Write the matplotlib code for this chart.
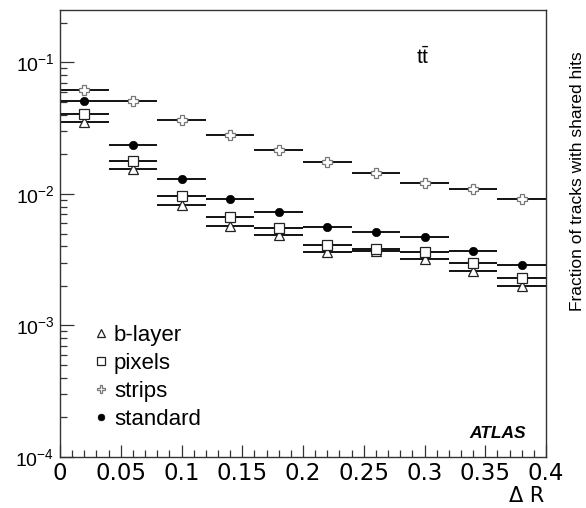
import matplotlib
matplotlib.use("Agg")
import matplotlib.pyplot as plt
from matplotlib.ticker import MultipleLocator, LogLocator, NullFormatter, FixedLocator
from matplotlib.lines import Line2D
import numpy as np

plt.rcParams['font.family'] = ['Liberation Sans', 'DejaVu Sans']
plt.rcParams['mathtext.fontset'] = 'custom'
plt.rcParams['mathtext.rm'] = 'Liberation Sans'
plt.rcParams['mathtext.it'] = 'Liberation Sans:italic'
plt.rcParams['mathtext.bf'] = 'Liberation Sans:bold'

# ---- data ----
bin_centers = [0.02, 0.06, 0.10, 0.14, 0.18, 0.22, 0.26, 0.30, 0.34, 0.38]
bin_halfwidth = 0.02
strips = [0.0613, 0.0506, 0.0363, 0.0279, 0.0214, 0.0175, 0.0144, 0.0120, 0.0109, 0.0092]
standard = [0.0506, 0.0237, 0.0130, 0.0092, 0.0073, 0.0056, 0.0051, 0.0047, 0.0037, 0.0029]
pixels = [0.0407, 0.0177, 0.0097, 0.0067, 0.0055, 0.0041, 0.0038, 0.0036, 0.0030, 0.0023]
blayer = [0.0355, 0.0154, 0.0082, 0.0057, 0.0049, 0.0036, 0.0037, 0.0032, 0.0026, 0.0020]
series_labels = ['b-layer', 'pixels', 'strips', 'standard']
x_ticks = [0, 0.05, 0.1, 0.15, 0.2, 0.25, 0.3, 0.35, 0.4]
x_ticklabels = ['0', '0.05', '0.1', '0.15', '0.2', '0.25', '0.3', '0.35', '0.4']
y_ticks = [1e-4, 1e-3, 1e-2, 1e-1]
y_ticklabels = [r'$10^{-4}$', r'$10^{-3}$', r'$10^{-2}$', r'$10^{-1}$']

W, H = 586, 508
fig = plt.figure(figsize=(W / 100, H / 100), dpi=100)
ax = fig.add_axes([60 / W, 1 - 457 / H, 486 / W, 447 / H])

styles = {
    'b-layer': dict(marker='^', ms=6.5, mfc='white', mec='#222222', mew=0.9),
    'pixels': dict(marker='s', ms=6.5, mfc='white', mec='#222222', mew=0.9),
    'strips': dict(marker='P', ms=7, mfc='white', mec='#777777', mew=0.9),
    'standard': dict(marker='o', ms=6, mfc='black', mec='black', mew=0.5),
}
data = {'b-layer': blayer, 'pixels': pixels, 'strips': strips, 'standard': standard}

for name in series_labels:
    ax.errorbar(bin_centers, data[name], xerr=bin_halfwidth, fmt='none',
                ecolor='black', elinewidth=1.3, capsize=0, zorder=2)
    ax.plot(bin_centers, data[name], linestyle='none', zorder=3, **styles[name])

ax.set_xlim(0, 0.4)
ax.set_yscale('log')
ax.set_ylim(1e-4, 0.25)

ax.xaxis.set_major_locator(FixedLocator(x_ticks))
ax.set_xticklabels(x_ticklabels, fontfamily='DejaVu Sans')
ax.xaxis.set_minor_locator(MultipleLocator(0.01))
ax.yaxis.set_major_locator(FixedLocator(y_ticks))
ax.set_yticklabels(y_ticklabels)
ax.yaxis.set_minor_locator(LogLocator(base=10, subs=np.arange(2, 10)))
ax.yaxis.set_minor_formatter(NullFormatter())

ax.tick_params(axis='both', which='both', direction='in', top=False, right=False, colors='#333333')
ax.tick_params(axis='x', which='major', length=9, width=0.9, labelsize=16.5, pad=3.5, labelcolor='black')
ax.tick_params(axis='x', which='minor', length=4.8, width=0.9)
ax.tick_params(axis='y', which='major', length=10, width=0.9, labelsize=14, pad=4, labelcolor='black')
ax.tick_params(axis='y', which='minor', length=5.3, width=0.9)
for s in ax.spines.values():
    s.set_linewidth(1.0)
    s.set_color('#333333')

handles = [Line2D([], [], linestyle='none', **dict(styles[n], ms=styles[n]['ms'] * 0.8)) for n in series_labels]
leg = ax.legend(handles, series_labels, loc='upper left', frameon=False,
                bbox_to_anchor=(95 / W, 1 - 325 / H), bbox_transform=fig.transFigure,
                fontsize=16, handlelength=0.5, handletextpad=0.35, labelspacing=0.31,
                borderpad=0, borderaxespad=0)

fig.text(423 / W, 1 - 57 / H, r'$\mathregular{t\bar{t}}$', fontsize=15, ha='center', va='center')
fig.text(498 / W, 1 - 433 / H, 'ATLAS', fontsize=12.5, fontweight='bold', fontstyle='italic',
         ha='center', va='center')
fig.text(544 / W, 1 - 502 / H, 'Δ R', fontsize=15, family='DejaVu Sans', ha='right', va='baseline')
fig.text(577 / W, 1 - 181 / H, 'Fraction of tracks with shared hits', fontsize=12.5,
         rotation=90, ha='center', va='center')

fig.savefig('out.png', dpi=100)
